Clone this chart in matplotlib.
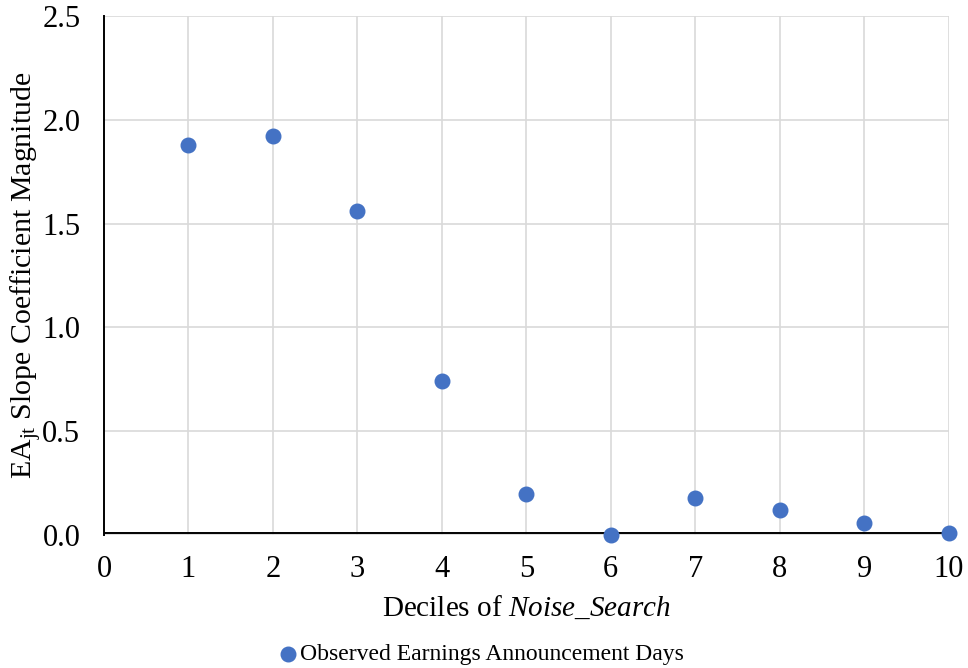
import numpy as np
import matplotlib.pyplot as plt

plt.rcParams['font.family'] = ['Liberation Serif', 'DejaVu Serif']
plt.rcParams['mathtext.fontset'] = 'custom'
plt.rcParams['mathtext.rm'] = 'Liberation Serif'
plt.rcParams['mathtext.it'] = 'Liberation Serif:italic'

# Data
deciles = [1, 2, 3, 4, 5, 6, 7, 8, 9, 10]
slopes = [1.88, 1.92, 1.56, 0.74, 0.20, 0.0, 0.18, 0.12, 0.06, 0.01]
x_ticks = list(range(0, 11))
y_ticks = [0.0, 0.5, 1.0, 1.5, 2.0, 2.5]

fig = plt.figure(figsize=(9.68, 6.68), dpi=100)
ax = fig.add_axes([0.1074, 0.199, 0.8726, 0.777])

ax.scatter(deciles, slopes, s=110, color='#4472C4', zorder=3,
           label='Observed Earnings Announcement Days', clip_on=False)

ax.set_xlim(0, 10)
ax.set_ylim(0, 2.5)
ax.set_xticks(x_ticks)
ax.set_yticks(y_ticks)
ax.set_yticklabels([f'{v:.1f}' for v in y_ticks])
ax.grid(True, color='#D9D9D9', linewidth=1.2)
ax.set_axisbelow(True)
ax.tick_params(length=0, labelsize=22)
ax.tick_params(axis='x', pad=14)
ax.tick_params(axis='y', pad=17)

for s in ['top', 'right', 'bottom']:
    ax.spines[s].set_visible(False)
ax.spines['left'].set_linewidth(1.4)
ax.axhline(0.012, color='black', linewidth=1.4, zorder=2)

ax.set_xlabel('Deciles of $\\mathit{Noise\\_Search}$', fontsize=21, labelpad=8)
ax.set_ylabel('EA$_{\\mathrm{jt}}$ Slope Coefficient Magnitude', fontsize=21.5)
ax.yaxis.set_label_coords(-0.071, 0.5)

fig.legend(loc='lower center', bbox_to_anchor=(0.49, -0.028), frameon=False,
           fontsize=17, handletextpad=-0.5, markerscale=1.0)

fig.savefig('out.png', dpi=100)
